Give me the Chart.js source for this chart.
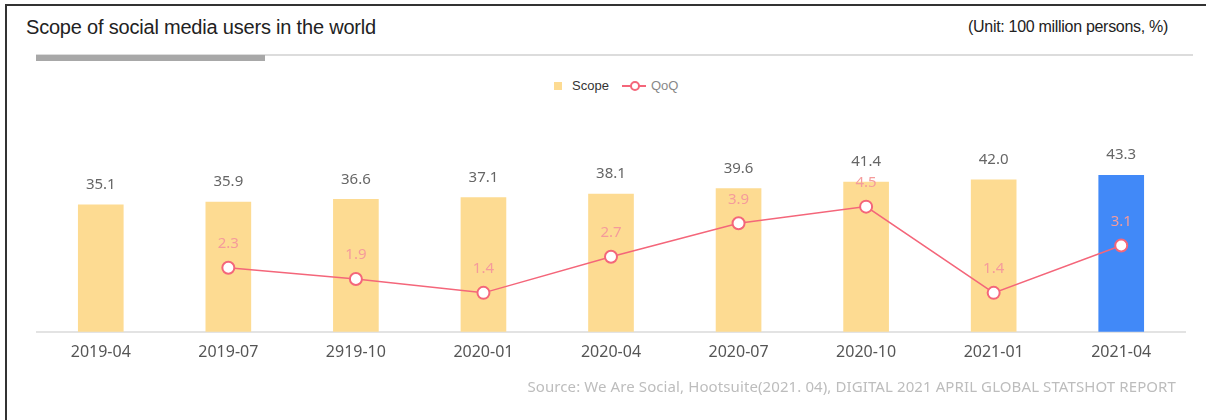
<!DOCTYPE html>
<html>
<head>
<meta charset="utf-8">
<script src="https://cdn.jsdelivr.net/npm/chart.js@4"></script>
<style>
  body { margin: 0; background: #fff; }
  #wrap { position: relative; width: 1206px; height: 420px; overflow: hidden; }
  .frame-top { position: absolute; left: 5px; top: 4px; width: 1201px; height: 2px; background: #333; }
  .frame-left { position: absolute; left: 5px; top: 4px; width: 2px; height: 416px; background: #333; }
  .title { position: absolute; left: 26px; top: 16px; font: 20px "Liberation Sans", Arial, sans-serif; letter-spacing: -0.2px; color: #222; }
  .unit { position: absolute; right: 38px; top: 18px; font: 16px "Liberation Sans", Arial, sans-serif; letter-spacing: -0.3px; color: #222; }
  .rule { position: absolute; left: 36px; top: 54px; width: 1157px; height: 2px; background: #dcdcdc; }
  .rule-bold { position: absolute; left: 36px; top: 55px; width: 229px; height: 6px; background: #a8a8a8; }
  .legend { position: absolute; left: 554px; top: 78px; font: 13px "Liberation Sans", Arial, sans-serif; letter-spacing: 0; display: flex; align-items: center; }
  .legend .sq { width: 8px; height: 8px; background: #fddb92; margin-right: 10px; }
  .legend .ln { position: relative; width: 24px; height: 2px; background: #f4667a; margin: 0 5px 0 13px; }
  .legend .ln::after { content: ""; position: absolute; left: 8px; top: -4px; width: 6px; height: 6px; border: 2px solid #f4667a; border-radius: 50%; background: #fff; }
  .source { position: absolute; right: 30px; top: 376px; font: 15px "Noto Sans", sans-serif; letter-spacing: 0.1px; color: #bdbdbd; }
  canvas { position: absolute; left: 0; top: 0; }
</style>
</head>
<body>
<div id="wrap">
  <div class="frame-top"></div>
  <div class="frame-left"></div>
  <div class="title">Scope of social media users in the world</div>
  <div class="unit">(Unit: 100 million persons, %)</div>
  <div class="rule"></div>
  <div class="rule-bold"></div>
  <div class="legend">
    <span class="sq"></span><span style="color:#333">Scope</span>
    <span class="ln"></span><span style="color:#888">QoQ</span>
  </div>
  <canvas id="chart" width="1206" height="420"></canvas>
  <div class="source">Source: We Are Social, Hootsuite(2021. 04), DIGITAL 2021 APRIL GLOBAL STATSHOT REPORT</div>
</div>
<script>
// Data //

const periods = ['2019-04', '2019-07', '2919-10', '2020-01', '2020-04', '2020-07', '2020-10', '2021-01', '2021-04'];
const scopeValues = [35.1, 35.9, 36.6, 37.1, 38.1, 39.6, 41.4, 42.0, 43.3];
const qoqValues = [null, 2.3, 1.9, 1.4, 2.7, 3.9, 4.5, 1.4, 3.1];

// value labels above bars and points
const valueLabels = {
  id: 'valueLabels',
  afterDatasetsDraw(chart) {
    const ctx = chart.ctx;
    ctx.save();
    ctx.textAlign = 'center';
    ctx.textBaseline = 'middle';
    ctx.font = '15px "Noto Sans", sans-serif';
    chart.data.datasets.forEach((ds, i) => {
      const meta = chart.getDatasetMeta(i);
      meta.data.forEach((el, j) => {
        const v = ds.data[j];
        if (v === null) return;
        if (ds.type === 'bar') {
          ctx.fillStyle = '#666';
          ctx.fillText(v.toFixed(1), el.x, el.y - 20);
        } else {
          ctx.fillStyle = '#f59b9b';
          ctx.fillText(v.toFixed(1), el.x, el.y - 24);
        }
      });
    });
    ctx.restore();
  }
};

const ctx = document.querySelector('#chart').getContext('2d');
new Chart(ctx, {
  data: {
    labels: periods,
    datasets: [
      {
        type: 'line',
        label: 'QoQ',
        data: qoqValues,
        yAxisID: 'y2',
        borderColor: '#f4667a',
        borderWidth: 1.5,
        pointRadius: 6,
        pointBorderWidth: 2,
        pointBackgroundColor: '#fff',
        pointBorderColor: '#f4667a',
        tension: 0,
        order: 1
      },
      {
        type: 'bar',
        label: 'Scope',
        data: scopeValues,
        yAxisID: 'y',
        backgroundColor: scopeValues.map((v, i) => i === scopeValues.length - 1 ? '#4189f8' : '#fddb92'),
        barThickness: 45,
        order: 2
      }
    ]
  },
  options: {
    responsive: false,
    animation: false,
    layout: { padding: { left: 37, right: 21, top: 151, bottom: 55 } },
    plugins: {
      legend: { display: false },
      tooltip: { enabled: false }
    },
    scales: {
      x: {
        grid: { display: false },
        border: { display: true, color: '#e3e3e3', width: 2 },
        ticks: { color: '#555', font: { size: 16, family: '"Noto Sans", sans-serif' }, padding: 3 }
      },
      y: { display: false, min: 0, max: 50 },
      y2: { display: false, min: 0, max: 6.5, position: 'right' }
    }
  },
  plugins: [valueLabels]
});
</script>
</body>
</html>
